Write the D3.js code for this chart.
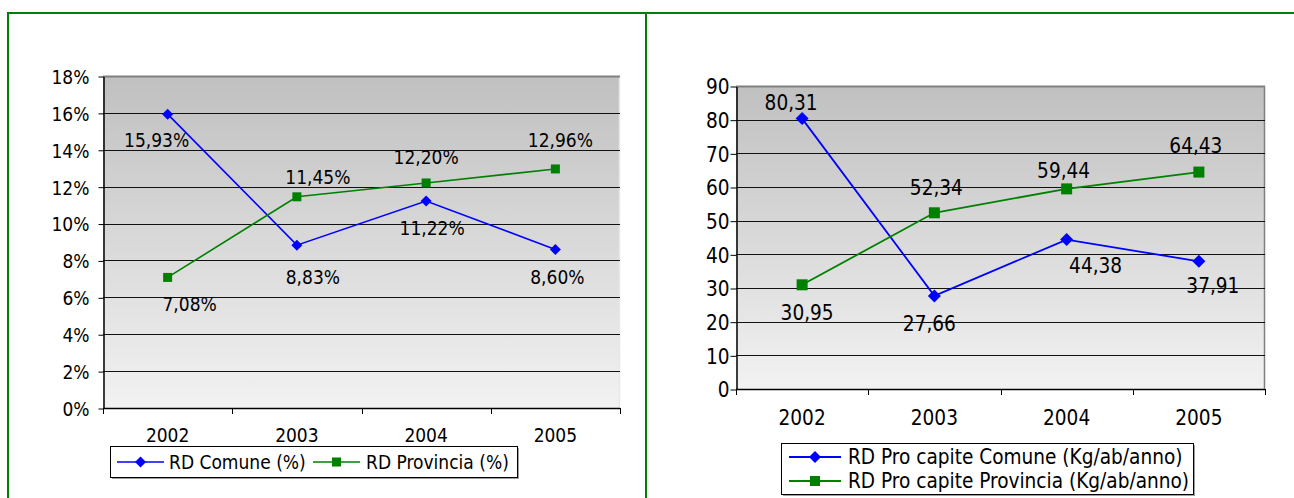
<!DOCTYPE html>
<html>
<head>
<meta charset="utf-8">
<script src="https://cdn.jsdelivr.net/npm/d3@7"></script>
<style>
  html, body { margin: 0; padding: 0; background: #fff; }
  svg { display: block; }
  text { font-family: "DejaVu Sans Condensed", "DejaVu Sans", sans-serif; font-stretch: condensed; fill: #000; }
</style>
</head>
<body>
<svg id="chart" width="1294" height="498"></svg>
<script>
// ---- data ----
const categories = ["2002", "2003", "2004", "2005"];
const rdComunePct = [15.93, 8.83, 11.22, 8.60];
const rdProvinciaPct = [7.08, 11.45, 12.20, 12.96];
const proCapiteComune = [80.31, 27.66, 44.38, 37.91];
const proCapiteProvincia = [30.95, 52.34, 59.44, 64.43];
const pctTicks = [0, 2, 4, 6, 8, 10, 12, 14, 16, 18];
const kgTicks = [0, 10, 20, 30, 40, 50, 60, 70, 80, 90];
const legendLeft = ["RD Comune (%)", "RD Provincia (%)"];
const legendRight = ["RD Pro capite Comune (Kg/ab/anno)", "RD Pro capite Provincia (Kg/ab/anno)"];

// label placement (offsets from each point, in px)
const offLeftComune = [[-11, 26], [16, 32], [6, 27], [2, 28]];
const offLeftProv = [[22, 27], [21, -20], [0, -26], [5, -29]];
const offRightComune = [[-11, -16], [-5, 28], [29, 26], [14, 25]];
const offRightProv = [[5, 28], [2, -25], [-3, -18], [-3, -26]];

const BLUE = "#0000ff", GREEN = "#008000";
const itLocale = d3.formatLocale({decimal: ",", thousands: ".", grouping: [3], currency: ["", "€"]});
const f2 = itLocale.format(".2f");

const svg = d3.select("#chart");
const defs = svg.append("defs");
const grad = defs.append("linearGradient").attr("id", "bg").attr("x1", 0).attr("y1", 0).attr("x2", 0).attr("y2", 1);
grad.append("stop").attr("offset", "0%").attr("stop-color", "#c0c0c0");
grad.append("stop").attr("offset", "100%").attr("stop-color", "#f2f2f2");

// outer green frame
svg.append("rect").attr("x", 8).attr("y", 13).attr("width", 1300).attr("height", 500)
  .attr("fill", "none").attr("stroke", GREEN).attr("stroke-width", 2);
svg.append("line").attr("x1", 646).attr("x2", 646).attr("y1", 13).attr("y2", 498)
  .attr("stroke", GREEN).attr("stroke-width", 2);

function marker(g, type, x, y, size, color) {
  const h = size / 2;
  if (type === "diamond") {
    g.append("path").attr("d", `M${x},${y - h}L${x + h},${y}L${x},${y + h}L${x - h},${y}Z`).attr("fill", color);
  } else {
    g.append("rect").attr("x", x - h).attr("y", y - h).attr("width", size).attr("height", size).attr("fill", color);
  }
}

function drawChart(o) {
  const g = svg.append("g").style("font-size", o.font + "px");
  const x = d3.scaleBand().domain(categories).range([o.x0, o.x1]);
  const y = d3.scaleLinear().domain([o.ticks[0], o.ticks[o.ticks.length - 1]]).range([o.y1, o.y0]);

  // plot background
  g.append("rect").attr("x", o.x0).attr("y", o.y0).attr("width", o.x1 - o.x0).attr("height", o.y1 - o.y0)
    .attr("fill", "url(#bg)");
  // right border
  g.append("line").attr("x1", o.x1 - 0.5).attr("x2", o.x1 - 0.5).attr("y1", o.y0).attr("y2", o.y1)
    .attr("stroke", o.rightBorder).attr("stroke-width", 1.5);
  // gridlines
  g.append("g").selectAll("line").data(o.ticks.slice(1)).join("line")
    .attr("x1", o.x0).attr("x2", o.x1)
    .attr("y1", d => Math.round(y(d)) + 0.5).attr("y2", d => Math.round(y(d)) + 0.5)
    .attr("stroke", (d, i) => i === o.ticks.length - 2 ? "#808080" : "#111").attr("stroke-width", (d, i) => i === o.ticks.length - 2 ? 2 : 1);

  // y axis
  const yAxis = d3.axisLeft(y).tickValues(o.ticks).tickSize(o.tickLen).tickSizeOuter(0).tickPadding(o.tickPad).tickFormat(o.yFmt);
  const ya = g.append("g").attr("transform", `translate(${o.x0 + 0.5},0.5)`).call(yAxis);
  ya.attr("font-size", null).attr("font-family", null);
  ya.select(".domain").attr("stroke", "#000").attr("stroke-width", 1.5);
  ya.selectAll(".tick line").attr("stroke", "#000");
  ya.selectAll("text").attr("dy", "0.36em").attr("fill", "#000");

  // x axis line and boundary ticks
  g.append("line").attr("x1", o.x0).attr("x2", o.x1).attr("y1", o.y1 + 0.5).attr("y2", o.y1 + 0.5)
    .attr("stroke", "#000").attr("stroke-width", 1.5);
  const bounds = categories.map(c => x(c)).concat([o.x1]);
  g.append("g").selectAll("line").data(bounds).join("line")
    .attr("x1", d => Math.round(d) + 0.5).attr("x2", d => Math.round(d) + 0.5)
    .attr("y1", o.y1).attr("y2", o.y1 + 6).attr("stroke", "#000");
  g.append("g").selectAll("text").data(categories).join("text")
    .attr("x", d => x(d) + x.bandwidth() / 2).attr("y", o.xLabelY)
    .attr("text-anchor", "middle").attr("dominant-baseline", "central").text(d => d);

  // series
  const line = d3.line().x((d, i) => x(categories[i]) + x.bandwidth() / 2).y(d => y(d));
  o.series.forEach(s => {
    g.append("path").datum(s.values).attr("d", line).attr("fill", "none")
      .attr("stroke", s.color).attr("stroke-width", o.lineW);
    const mg = g.append("g");
    s.values.forEach((v, i) => {
      const cx = x(categories[i]) + x.bandwidth() / 2, cy = y(v);
      marker(mg, s.marker, cx, cy, s.marker === "diamond" ? o.diaSize : o.sqSize, s.color);
    });
    g.append("g").selectAll("text").data(s.values).join("text")
      .attr("x", (d, i) => x(categories[i]) + x.bandwidth() / 2 + s.offsets[i][0])
      .attr("y", (d, i) => y(d) + s.offsets[i][1])
      .attr("text-anchor", "middle").attr("dominant-baseline", "central")
      .text(d => o.lblFmt(d));
  });

  // legend
  const L = o.legend;
  g.append("rect").attr("x", L.x + 2).attr("y", L.y + 2).attr("width", L.w).attr("height", L.h).attr("fill", "#a0a0a0");
  g.append("rect").attr("x", L.x + 0.5).attr("y", L.y + 0.5).attr("width", L.w).attr("height", L.h)
    .attr("fill", "#fff").attr("stroke", "#000").attr("stroke-width", 1);
  L.items.forEach((it, i) => {
    const s = o.series[i];
    g.append("line").attr("x1", it.lx).attr("x2", it.lx + L.lineLen).attr("y1", it.y).attr("y2", it.y)
      .attr("stroke", s.color).attr("stroke-width", o.lineW);
    marker(g, s.marker, it.lx + L.lineLen / 2, it.y, s.marker === "diamond" ? L.dia : L.sq, s.color);
    g.append("text").attr("x", it.tx).attr("y", it.y).attr("dominant-baseline", "central").text(it.text);
  });
}

drawChart({
  x0: 103, x1: 620, y0: 76, y1: 408, ticks: pctTicks, font: 19,
  tickLen: 5, tickPad: 9, yFmt: d => d + "%", xLabelY: 435,
  rightBorder: "#e8e8e8", lineW: 1.6, diaSize: 11, sqSize: 9,
  lblFmt: d => f2(d) + "%",
  series: [
    {values: rdComunePct, color: BLUE, marker: "diamond", offsets: offLeftComune},
    {values: rdProvinciaPct, color: GREEN, marker: "square", offsets: offLeftProv}
  ],
  legend: {x: 110, y: 446, w: 407, h: 31, lineLen: 47, dia: 11, sq: 9,
    items: [{lx: 117, tx: 169, y: 462, text: legendLeft[0]}, {lx: 313, tx: 366, y: 462, text: legendLeft[1]}]}
});

drawChart({
  x0: 736, x1: 1265, y0: 86, y1: 389, ticks: kgTicks, font: 20.6,
  tickLen: 6, tickPad: 1, yFmt: d => String(d), xLabelY: 418,
  rightBorder: "#808080", lineW: 1.8, diaSize: 13, sqSize: 11,
  lblFmt: d => f2(d),
  series: [
    {values: proCapiteComune, color: BLUE, marker: "diamond", offsets: offRightComune},
    {values: proCapiteProvincia, color: GREEN, marker: "square", offsets: offRightProv}
  ],
  legend: {x: 781, y: 443, w: 412, h: 51, lineLen: 52, dia: 12, sq: 10,
    items: [{lx: 789, tx: 848, y: 457, text: legendRight[0]}, {lx: 789, tx: 848, y: 481, text: legendRight[1]}]}
});
</script>
</body>
</html>
